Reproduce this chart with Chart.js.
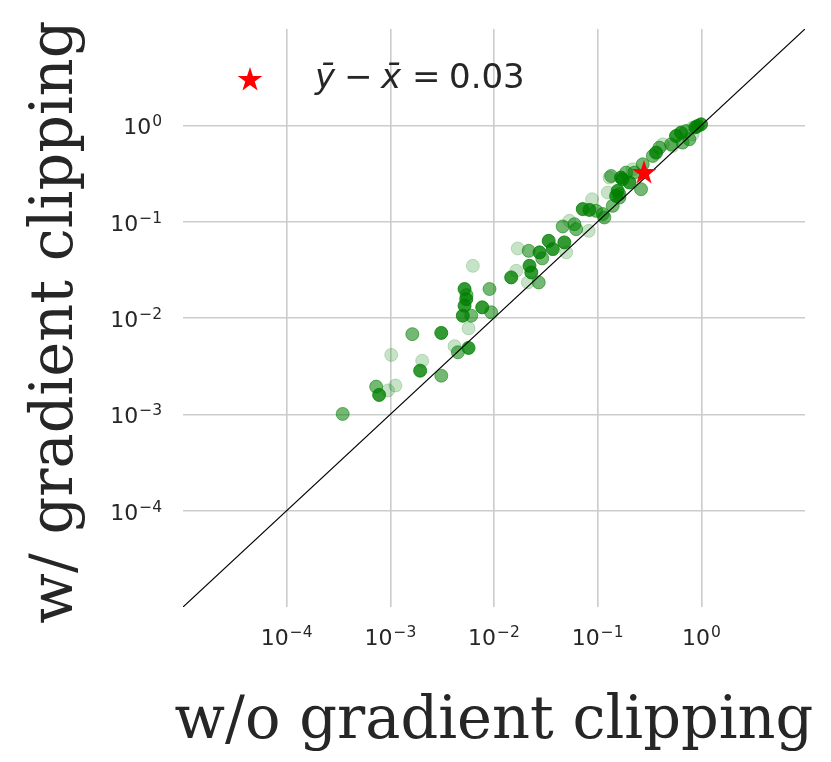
<!DOCTYPE html>
<html>
<head>
<meta charset="utf-8">
<script src="https://cdn.jsdelivr.net/npm/chart.js@4.4.1/dist/chart.umd.min.js"></script>
<style>
  body { margin: 0; background: #ffffff; }
  canvas { display: block; }
</style>
</head>
<body>
<canvas id="clipChart" width="831" height="762"></canvas>
<script>
// axis ticks (log scale, both axes): base and exponent of each label
const tickValues = [1e-4, 1e-3, 1e-2, 1e-1, 1e0];
const tickExponents = ['\u22124', '\u22123', '\u22122', '\u22121', '0'];

// per-run values: x = w/o gradient clipping, y = w/ gradient clipping
// split by how opaque the dot is in the picture
const xLight = [9.5e-4, 1.12e-3, 1.02e-3, 2.03e-3, 4.16e-3, 5.68e-3, 6.25e-3, 0.01695, 0.0212, 0.0164,
    0.0497, 0.0534, 0.082, 0.0883, 0.125, 0.13, 0.218, 0.424, 0.529, 0.824, 0.824];
const yLight = [1.77e-3, 1.99e-3, 4.14e-3, 3.6e-3, 5.1e-3, 7.8e-3, 0.0348, 0.0527, 0.0234, 0.0309,
    0.048, 0.102, 0.0803, 0.171, 0.2008, 0.287, 0.35, 0.635, 0.61, 0.947, 0.807];

const xMedium = [3.47e-4, 7.3e-4, 1.63e-3, 3.1e-3, 4.48e-3, 6.03e-3, 5.43e-3, 9.05e-3, 9.4e-3, 0.0216,
    0.027, 0.0292, 0.046, 0.0597, 0.062, 0.0967, 0.112, 0.116, 0.1397, 0.162,
    0.135, 0.226, 0.262, 0.188, 0.272, 0.34, 0.394, 0.51, 0.712, 0.766, 0.66, 0.162];
const yMedium = [1.01e-3, 1.94e-3, 6.8e-3, 2.52e-3, 4.41e-3, 0.01056, 0.0173, 0.020, 0.01146, 0.0498,
    0.0234, 0.0416, 0.0892, 0.0942, 0.0836, 0.1295, 0.12, 0.1106, 0.146, 0.193,
    0.298, 0.3235, 0.217, 0.3235, 0.394, 0.481, 0.587, 0.635, 0.873, 0.716, 0.662, 0.178];

const xDark = [7.8e-4, 3.1e-3, 1.94e-3, 5.68e-3, 5.2e-3, 5.4e-3, 5.2e-3, 5.0e-3, 7.7e-3, 0.01465,
    0.022, 0.0229, 0.0275, 0.0337, 0.0369, 0.0477, 0.0718, 0.0833, 0.1506, 0.168,
    0.2024, 0.366, 0.57, 0.637, 0.921, 0.993, 0.875, 0.174, 0.156];
const yDark = [1.59e-3, 7.0e-3, 2.84e-3, 4.89e-3, 0.020, 0.0157, 0.0134, 0.01056, 0.0129, 0.0264,
    0.0348, 0.0297, 0.048, 0.0632, 0.0519, 0.0609, 0.135, 0.1325, 0.185, 0.287,
    0.255, 0.521, 0.775, 0.84, 0.984, 1.024, 0.954, 0.276, 0.209];

// mean point (red star) and its label
const meanX = 0.28;
const meanY = 0.32;
const meanDiff = '0.03';

function toPoints(xs, ys) {
    return xs.map(function (x, i) { return { x: x, y: ys[i] }; });
}

// filled 5-point star used as the marker for the mean
function makeStar(r) {
    const c = document.createElement('canvas');
    c.width = c.height = Math.ceil(r * 2 + 2);
    const g = c.getContext('2d');
    const cx = c.width / 2, cy = c.height / 2;
    g.beginPath();
    for (let i = 0; i < 10; i++) {
        const rad = i % 2 === 0 ? r : r * 0.382;
        const a = -Math.PI / 2 + i * Math.PI / 5;
        g.lineTo(cx + rad * Math.cos(a), cy + rad * Math.sin(a));
    }
    g.closePath();
    g.fillStyle = '#ff0000';
    g.fill();
    return c;
}
const starMarker = makeStar(13);

function dotSet(xs, ys, alpha, order) {
    const col = 'rgba(0, 128, 0, ' + alpha + ')';
    return {
        data: toPoints(xs, ys),
        backgroundColor: col,
        borderColor: col,
        borderWidth: 1,
        pointRadius: 6.5,
        order: order
    };
}

const baseFont = '22px "DejaVu Sans"';
const supFont = '15.5px "DejaVu Sans"';

// "10" with a raised exponent, like the mathtext tick labels
function drawPowerLabel(ctx, exp, x, baseline, align) {
    ctx.font = baseFont;
    const wBase = ctx.measureText('10').width;
    ctx.font = supFont;
    const wExp = ctx.measureText(exp).width;
    const total = wBase + 1 + wExp;
    let left = x - total / 2;
    if (align === 'right') left = x - total;
    ctx.textAlign = 'left';
    ctx.textBaseline = 'alphabetic';
    ctx.font = baseFont;
    ctx.fillText('10', left, baseline);
    ctx.font = supFont;
    ctx.fillText(exp, left + wBase + 1, baseline - 8);
}

// tick labels, axis titles and the legend entry
const textPlugin = {
    id: 'textPlugin',
    afterDraw: function (chart) {
        const ctx = chart.ctx;
        const area = chart.chartArea;
        const xs = chart.scales.x, ys = chart.scales.y;
        ctx.save();
        ctx.fillStyle = '#262626';

        tickValues.forEach(function (v, i) {
            drawPowerLabel(ctx, tickExponents[i], xs.getPixelForValue(v), area.bottom + 38, 'center');
            drawPowerLabel(ctx, tickExponents[i], area.left - 21, ys.getPixelForValue(v) + 9, 'right');
        });

        ctx.font = '59px "DejaVu Serif"';
        ctx.textAlign = 'center';
        ctx.textBaseline = 'alphabetic';
        ctx.fillText('w/o gradient clipping', (area.left + area.right) / 2, 738);

        ctx.save();
        ctx.translate(72, (area.top + area.bottom) / 2 + 4);
        ctx.rotate(-Math.PI / 2);
        ctx.fillText('w/ gradient clipping', 0, 0);
        ctx.restore();

        // legend
        ctx.drawImage(starMarker, 250 - starMarker.width / 2, 80 - starMarker.height / 2);
        ctx.textAlign = 'left';
        const base = 88;
        ctx.font = 'italic 34px "DejaVu Sans"';
        ctx.fillText('\u0233', 315, base);
        ctx.fillText('x\u0304', 381, base);
        ctx.font = '34px "DejaVu Sans"';
        ctx.fillText('\u2212', 344, base);
        ctx.fillText('=', 412, base);
        ctx.fillText(meanDiff, 449, base);
        ctx.restore();
    }
};

function axisOptions(isX) {
    return {
        type: 'logarithmic',
        min: 1e-5,
        max: 1e1,
        afterBuildTicks: function (scale) {
            scale.ticks = tickValues.map(function (v) { return { value: v }; });
        },
        afterFit: function (scale) {
            if (isX) { scale.height = 155; } else { scale.width = 183; }
        },
        grid: { color: '#cccccc', lineWidth: 1.6, drawTicks: false },
        border: { display: false },
        ticks: { display: false }
    };
}

document.addEventListener('DOMContentLoaded', function () {
    const ctx = document.getElementById('clipChart').getContext('2d');
    new Chart(ctx, {
        type: 'scatter',
        data: {
            datasets: [
                {
                    data: [{ x: meanX, y: meanY }],
                    pointStyle: starMarker,
                    pointRadius: 13,
                    order: 0
                },
                {
                    data: [{ x: 1e-5, y: 1e-5 }, { x: 1e1, y: 1e1 }],
                    showLine: true,
                    borderColor: '#000000',
                    borderWidth: 1.2,
                    pointRadius: 0,
                    order: 1
                },
                dotSet(xDark, yDark, 0.8, 2),
                dotSet(xMedium, yMedium, 0.55, 3),
                dotSet(xLight, yLight, 0.22, 4)
            ]
        },
        options: {
            responsive: false,
            animation: false,
            layout: { padding: { top: 29, right: 26, left: 0, bottom: 0 } },
            plugins: {
                legend: { display: false },
                tooltip: { enabled: false }
            },
            scales: {
                x: axisOptions(true),
                y: axisOptions(false)
            }
        },
        plugins: [textPlugin]
    });
});
</script>
</body>
</html>
